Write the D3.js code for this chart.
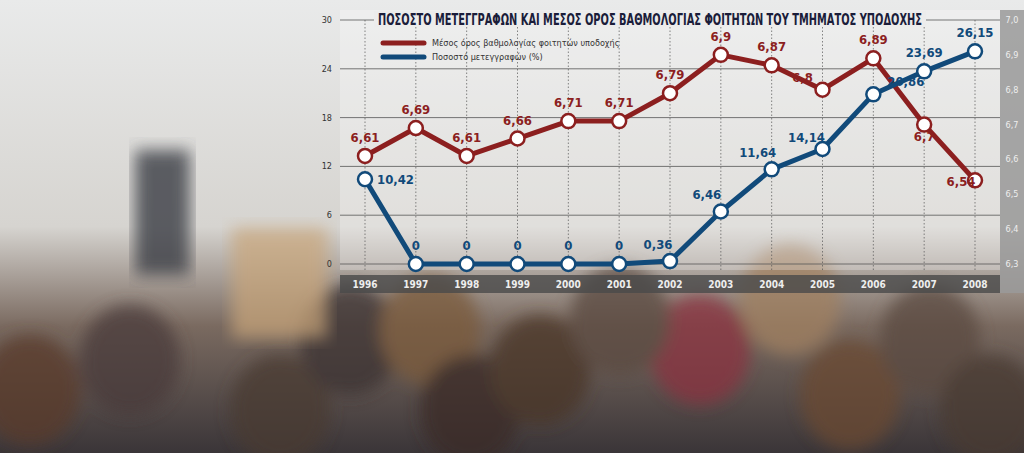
<!DOCTYPE html>
<html><head><meta charset="utf-8">
<script src="https://cdn.jsdelivr.net/npm/d3@7"></script>
<style>body{margin:0;overflow:hidden}svg{display:block}</style>
</head><body>
<script>
var years = [1996,1997,1998,1999,2000,2001,2002,2003,2004,2005,2006,2007,2008];
var grades = [6.61,6.69,6.61,6.66,6.71,6.71,6.79,6.90,6.87,6.80,6.89,6.70,6.54];
var transfers = [10.42,0,0,0,0,0,0.36,6.46,11.64,14.14,20.86,23.69,26.15];
var leftTicks = [0,6,12,18,24,30];
var rightTicks = [6.3,6.4,6.5,6.6,6.7,6.8,6.9,7.0];
var red = "#8c1f1f", blue = "#114a7a";
var fmt = function(v){ return d3.format(",")(v).replace(".", ","); };

var W = 1024, H = 453;
var svg = d3.select("body").append("svg").attr("width", W).attr("height", H);
var defs = svg.append("defs");
var bg = defs.append("linearGradient").attr("id","bg").attr("x1",0).attr("y1",0).attr("x2",0).attr("y2",1);
bg.append("stop").attr("offset","0").attr("stop-color","#e9eaea");
bg.append("stop").attr("offset","0.5").attr("stop-color","#d6d4d0");
bg.append("stop").attr("offset","0.72").attr("stop-color","#7a6a60");
bg.append("stop").attr("offset","1").attr("stop-color","#3a3538");
defs.append("filter").attr("id","blur").append("feGaussianBlur").attr("stdDeviation",8);
svg.append("rect").attr("width",W).attr("height",H).attr("fill","url(#bg)");

// blurred crowd impression
var heads = [[30,390,"#5a3a2a"],[130,360,"#4a3a3a"],[280,410,"#4a3a30"],[350,340,"#3a3030"],[430,330,"#7a5a3a"],[470,410,"#3a2a25"],[540,370,"#4a3528"],[700,350,"#8a3040"],[850,395,"#6a4a30"],[930,340,"#5a4a40"],[990,410,"#4a3a30"],[620,320,"#5a4a40"],[790,300,"#a08060"]];
svg.append("g").attr("filter","url(#blur)").attr("opacity",0.75).selectAll("ellipse").data(heads).join("ellipse")
  .attr("cx", d => d[0]).attr("cy", d => d[1]).attr("rx", 50).attr("ry", 55).attr("fill", d => d[2]);
svg.append("rect").attr("x",135).attr("y",150).attr("width",55).attr("height",125).attr("fill","#3a3e44").attr("filter","url(#blur)").attr("opacity",0.8);
svg.append("rect").attr("x",232).attr("y",228).attr("width",95).attr("height",110).attr("fill","#c9a67a").attr("filter","url(#blur)").attr("opacity",0.7);

var x = d3.scalePoint().domain(years).range([365, 975]);
var yL = d3.scaleLinear().domain([0,30]).range([264, 20]);
var yR = d3.scaleLinear().domain([6.3,7.0]).range([264, 20]);

// panels
svg.append("rect").attr("x",340).attr("y",10).attr("width",660).attr("height",260).attr("fill","#fff").attr("opacity",0.25);
svg.append("rect").attr("x",1000).attr("y",10).attr("width",24).attr("height",283).attr("fill","#9a9a9a").attr("opacity",0.85);
svg.append("rect").attr("x",340).attr("y",275).attr("width",660).attr("height",18).attr("fill","#4a4a4a").attr("opacity",0.8);

// grid
svg.append("g").selectAll("line").data(leftTicks).join("line")
  .attr("x1",340).attr("x2",1000).attr("y1", d => yL(d)).attr("y2", d => yL(d))
  .attr("stroke","#555").attr("stroke-width",0.8);
svg.append("g").selectAll("line").data(years).join("line")
  .attr("x1", d => x(d)).attr("x2", d => x(d)).attr("y1",20).attr("y2",270)
  .attr("stroke","#555").attr("stroke-width",0.7).attr("stroke-dasharray","1.5,2");

var tf = "'Liberation Sans Narrow','DejaVu Sans Condensed',sans-serif";
svg.append("g").selectAll("text").data(leftTicks).join("text")
  .attr("x",332).attr("y", d => yL(d)+3).attr("text-anchor","end")
  .attr("font-family",tf).attr("font-size",9).attr("fill","#333").text(d => d);
svg.append("g").selectAll("text").data(rightTicks).join("text")
  .attr("x",1012).attr("y", d => yR(d)+3).attr("text-anchor","middle")
  .attr("font-family",tf).attr("font-size",9).attr("fill","#eee").text(d => d3.format(".1f")(d).replace(".",","));
svg.append("g").selectAll("text").data(years).join("text")
  .attr("x", d => x(d)).attr("y",288).attr("text-anchor","middle")
  .attr("font-family",tf).attr("font-weight","bold").attr("font-size",10).attr("fill","#eee").text(d => d);

// title
svg.append("rect").attr("x",374).attr("y",11).attr("width",552).attr("height",16).attr("fill","#ececec");
svg.append("text").attr("x",378).attr("y",25)
  .attr("textLength",544).attr("lengthAdjust","spacingAndGlyphs")
  .attr("font-family",tf).attr("font-weight","bold").attr("font-size",15).attr("fill","#1b1d3a")
  .text("ΠΟΣΟΣΤΟ ΜΕΤΕΓΓΡΑΦΩΝ ΚΑΙ ΜΕΣΟΣ ΟΡΟΣ ΒΑΘΜΟΛΟΓΙΑΣ ΦΟΙΤΗΤΩΝ ΤΟΥ ΤΜΗΜΑΤΟΣ ΥΠΟΔΟΧΗΣ");

// legend
var legend = [["Μέσος όρος βαθμολογίας φοιτητών υποδοχής", red],["Ποσοστό μετεγγραφών (%)", blue]];
legend.forEach(function(l, i){
  var ly = 43 + i*14;
  svg.append("line").attr("x1",383).attr("x2",424).attr("y1",ly).attr("y2",ly)
    .attr("stroke",l[1]).attr("stroke-width",5).attr("stroke-linecap","round");
  svg.append("text").attr("x",432).attr("y",ly+3).attr("font-family",tf).attr("font-size",9).attr("fill","#333").text(l[0]);
});

function series(vals, y, color, labelPos){
  svg.append("path").datum(vals)
    .attr("d", d3.line().x((d,i) => x(years[i])).y(d => y(d)))
    .attr("fill","none").attr("stroke",color).attr("stroke-width",5).attr("stroke-linejoin","round");
  svg.append("g").selectAll("circle").data(vals).join("circle")
    .attr("cx",(d,i) => x(years[i])).attr("cy", d => y(d)).attr("r",7)
    .attr("fill","#fff").attr("stroke",color).attr("stroke-width",2.5);
  svg.append("g").selectAll("text").data(vals).join("text")
    .attr("x",(d,i) => x(years[i]) + labelPos(i)[0]).attr("y",(d,i) => y(d) + labelPos(i)[1])
    .attr("text-anchor",(d,i) => labelPos(i)[2] || "middle")
    .attr("font-family",tf).attr("font-weight","bold").attr("font-size",13).attr("fill",color)
    .text(d => fmt(d));
}
series(grades, yR, red, function(i){
  if (i === 9) return [-20,-8];
  if (i === 11) return [0,16];
  if (i === 12) return [-14,6];
  return [0,-14];
});
series(transfers, yL, blue, function(i){
  if (i === 0) return [12,5,"start"];
  if (i === 9) return [-16,-7];
  if (i === 10) return [14,-8,"start"];
  if (i === 7 || i === 8) return [-14,-12];
  if (i === 6) return [-12,-12];
  return [0,-14];
});
</script>
</body></html>
